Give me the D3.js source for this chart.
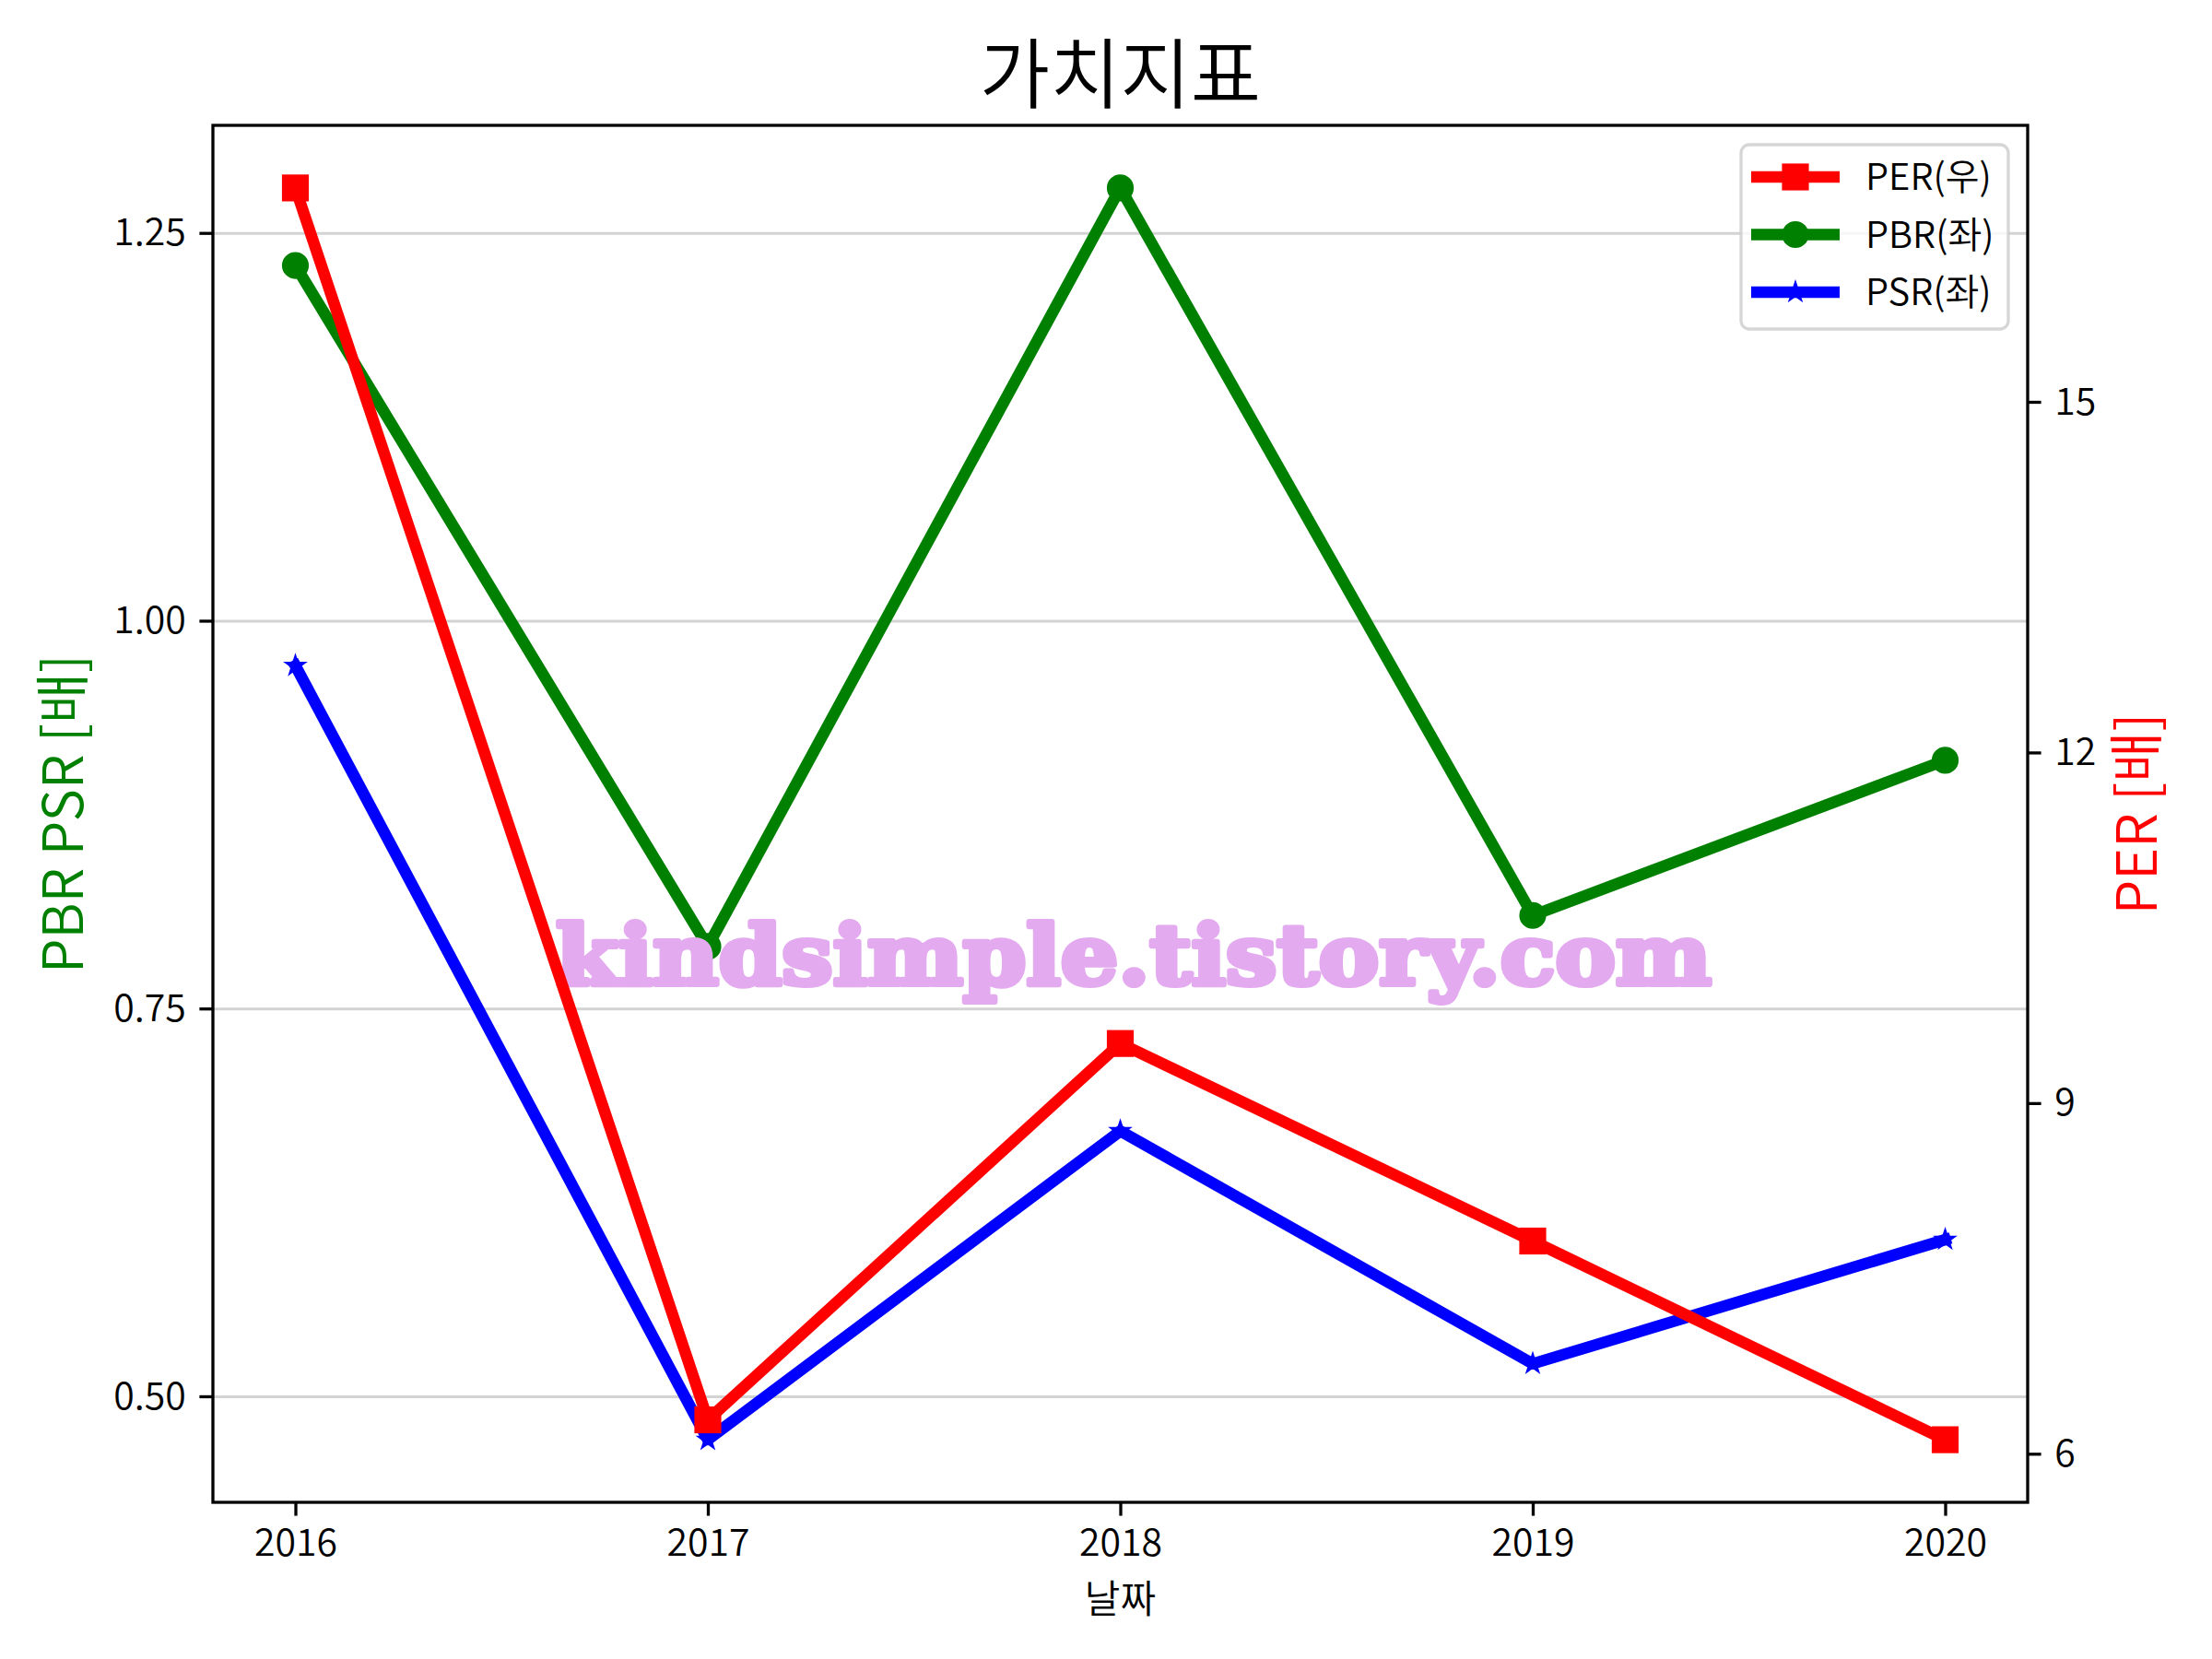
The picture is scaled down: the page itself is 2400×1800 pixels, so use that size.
<!DOCTYPE html>
<html><head><meta charset="utf-8">
<script src="https://cdn.jsdelivr.net/npm/d3@7"></script>
<style>body{margin:0;background:#fff}</style>
</head><body><svg id="c" width="2400" height="1800" xmlns="http://www.w3.org/2000/svg"></svg>
<script>
// ---- data ----
const years = [2016, 2017, 2018, 2019, 2020];
const perValues = [16.83, 6.29, 9.51, 7.82, 6.12];
const pbrValues = [1.229, 0.790, 1.279, 0.810, 0.910];
const psrValues = [0.971, 0.472, 0.671, 0.521, 0.601];
const leftTicks = [0.50, 0.75, 1.00, 1.25];
const rightTicks = [6, 9, 12, 15];
const seriesNames = ["PER(우)", "PBR(좌)", "PSR(좌)"];
const titleText = "가치지표";
const xLabel = "날짜";
const leftLabel = "PBR PSR [배]";
const rightLabel = "PER [배]";
const watermark = "kindsimple.tistory.com";

// ---- layout ----
const W = 2400, H = 1800;
const L = 231, R = 2200, T = 136, B = 1630;
const FONT = "'Noto Sans CJK KR','Noto Sans',sans-serif";
const FW = 350;
const LW = 12.5, MS = 25, MEW = 4.17, TICK = 14.6, PAD = 14.6, SPINE = 3.3;

const svg = d3.select("#c");
svg.append("rect").attr("width", W).attr("height", H).attr("fill", "#fff");

function padded(vals) {
  const [a, b] = d3.extent(vals); const p = 0.05 * (b - a); return [a - p, b + p];
}
const xs = d3.scaleLinear().domain(padded(years)).range([L, R]);
const yl = d3.scaleLinear().domain(padded(pbrValues.concat(psrValues))).range([B, T]);
const yr = d3.scaleLinear().domain(padded(perValues)).range([B, T]);

// grid
svg.append("g").attr("transform", `translate(${L},0)`)
  .call(d3.axisLeft(yl).tickValues(leftTicks).tickSize(-(R - L)).tickFormat(""))
  .call(g => g.select(".domain").remove())
  .call(g => g.selectAll("line").attr("stroke", "#d3d3d3").attr("stroke-width", 3));

function starPath(r) {
  const ri = r * 0.381966; let p = [];
  for (let i = 0; i < 10; i++) {
    const a = -Math.PI / 2 + i * Math.PI / 5; const rr = i % 2 ? ri : r;
    p.push([rr * Math.cos(a), rr * Math.sin(a)]);
  }
  return "M" + p.map(q => q.join(",")).join("L") + "Z";
}
function marker(g, type, color, x, y) {
  if (type === "s") g.append("rect").attr("x", x - MS / 2).attr("y", y - MS / 2).attr("width", MS).attr("height", MS)
    .attr("fill", color).attr("stroke", color).attr("stroke-width", MEW).attr("stroke-linejoin", "miter");
  else if (type === "o") g.append("circle").attr("cx", x).attr("cy", y).attr("r", MS / 2)
    .attr("fill", color).attr("stroke", color).attr("stroke-width", MEW);
  else g.append("path").attr("d", starPath(MS * 0.4)).attr("transform", `translate(${x},${y})`)
    .attr("fill", color).attr("stroke", color).attr("stroke-width", 2.5).attr("stroke-linejoin", "miter");
}
function series(vals, ys, color, type) {
  const g = svg.append("g");
  const line = d3.line().x((d, i) => xs(years[i])).y(d => ys(d));
  g.append("path").attr("d", line(vals)).attr("fill", "none").attr("stroke", color)
    .attr("stroke-width", LW).attr("stroke-linejoin", "round").attr("stroke-linecap", "square");
  vals.forEach((v, i) => marker(g, type, color, xs(years[i]), ys(v)));
}
series(pbrValues, yl, "#008000", "o");
series(psrValues, yl, "#0000ff", "*");

// watermark
svg.append("text").attr("x", 603).attr("y", 1068).text(watermark)
  .attr("font-family", "'DejaVu Serif',serif").attr("font-weight", "bold").attr("font-size", 90)
  .attr("textLength", 1254).attr("lengthAdjust", "spacingAndGlyphs").attr("fill", "#E3AAEF")
  .attr("stroke", "#E3AAEF").attr("stroke-width", 6).attr("stroke-linejoin", "round");

series(perValues, yr, "#ff0000", "s");

// spines
svg.append("rect").attr("x", L).attr("y", T).attr("width", R - L).attr("height", B - T)
  .attr("fill", "none").attr("stroke", "#000").attr("stroke-width", SPINE);

function styleAxis(g) {
  g.select(".domain").remove();
  g.selectAll("line").attr("stroke", "#000").attr("stroke-width", SPINE);
  g.selectAll("text").attr("font-family", FONT).attr("font-weight", FW).attr("font-size", 41).attr("fill", "#000");
}
svg.append("g").attr("transform", `translate(0,${B})`)
  .call(d3.axisBottom(xs).tickValues(years).tickFormat(d3.format("d")).tickSize(TICK).tickPadding(PAD)).call(styleAxis);
svg.append("g").attr("transform", `translate(${L},0)`)
  .call(d3.axisLeft(yl).tickValues(leftTicks).tickFormat(d3.format(".2f")).tickSize(TICK).tickPadding(PAD)).call(styleAxis);
svg.append("g").attr("transform", `translate(${R},0)`)
  .call(d3.axisRight(yr).tickValues(rightTicks).tickFormat(d3.format("d")).tickSize(TICK).tickPadding(PAD)).call(styleAxis);

// titles
svg.append("text").attr("x", (L + R) / 2).attr("y", 111).attr("text-anchor", "middle")
  .attr("font-family", FONT).attr("font-weight", FW).attr("font-size", 83).text(titleText);
svg.append("text").attr("x", (L + R) / 2).attr("y", 1750).attr("text-anchor", "middle")
  .attr("font-family", FONT).attr("font-weight", FW).attr("font-size", 42).text(xLabel);
svg.append("text").attr("transform", `translate(90,${(T + B) / 2}) rotate(-90)`).attr("text-anchor", "middle")
  .attr("font-family", FONT).attr("font-weight", FW).attr("font-size", 60).attr("fill", "#008000").text(leftLabel);
svg.append("text").attr("transform", `translate(2340,${(T + B) / 2}) rotate(-90)`).attr("text-anchor", "middle")
  .attr("font-family", FONT).attr("font-weight", FW).attr("font-size", 60).attr("fill", "#ff0000").text(rightLabel);

// legend
const lg = svg.append("g");
lg.append("rect").attr("x", 1889).attr("y", 157).attr("width", 290).attr("height", 200).attr("rx", 9)
  .attr("fill", "#fff").attr("fill-opacity", 0.8).attr("stroke", "#cccccc").attr("stroke-opacity", 0.8).attr("stroke-width", SPINE);
const legColors = ["#ff0000", "#008000", "#0000ff"], legTypes = ["s", "o", "*"];
seriesNames.forEach((n, i) => {
  const y = 192 + i * 62.5;
  lg.append("line").attr("x1", 1900).attr("x2", 1996).attr("y1", y).attr("y2", y)
    .attr("stroke", legColors[i]).attr("stroke-width", LW);
  marker(lg, legTypes[i], legColors[i], 1948, y);
  lg.append("text").attr("x", 2024).attr("y", y + 14).attr("font-family", FONT).attr("font-weight", FW)
    .attr("font-size", 40).text(n);
});
</script></body></html>
